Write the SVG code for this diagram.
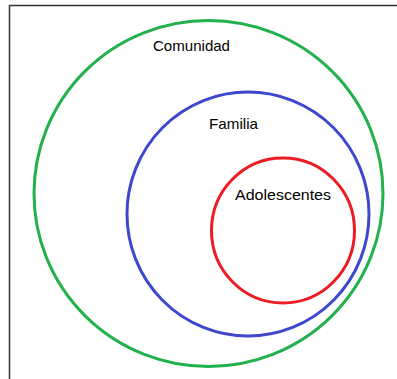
<svg xmlns="http://www.w3.org/2000/svg" width="397" height="379" viewBox="0 0 397 379">
<style>
.ring{fill:none;stroke-width:3}
.lbl{font-family:"Liberation Sans","DejaVu Sans",sans-serif;font-size:15px;fill:#000}
</style>
<rect width="397" height="379" fill="#fff"/>
<path d="M9.5 379 V5.5 H397" fill="none" stroke="#333" stroke-width="1.5"/>
<g id="comunidad">
<ellipse class="ring" cx="208.5" cy="193.5" rx="174.5" ry="173" stroke="#22b14c"/>
<text class="lbl" x="153" y="51" textLength="77" lengthAdjust="spacingAndGlyphs">Comunidad</text>
</g>
<g id="familia">
<ellipse class="ring" cx="248" cy="214" rx="121" ry="122" stroke="#3f48cc"/>
<text class="lbl" x="209" y="129" textLength="49" lengthAdjust="spacingAndGlyphs">Familia</text>
</g>
<g id="adolescentes">
<ellipse class="ring" cx="283" cy="230.5" rx="71.5" ry="72.5" stroke="#ed1c24"/>
<text class="lbl" x="235" y="200" textLength="96" lengthAdjust="spacingAndGlyphs">Adolescentes</text>
</g>
<g id="connectors"/>
</svg>
